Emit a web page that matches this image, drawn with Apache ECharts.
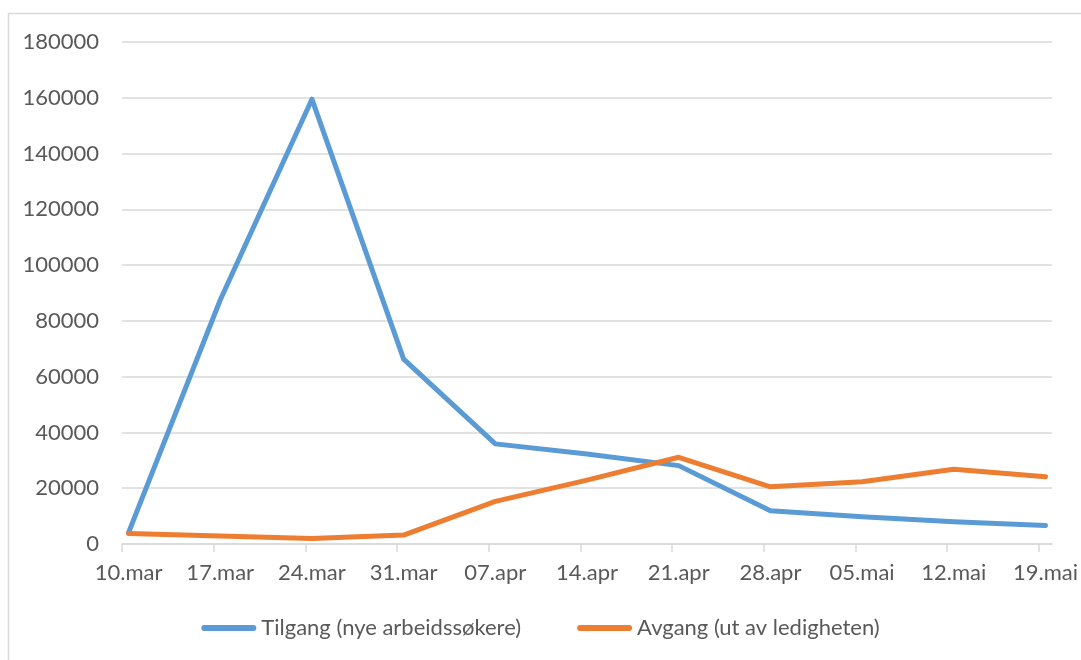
<!DOCTYPE html>
<html>
<head>
<meta charset="utf-8">
<title>Tilgang og avgang av arbeidssøkere</title>
<script src="https://cdn.jsdelivr.net/npm/echarts@6/dist/echarts.min.js"></script>
<style>
  html, body { margin: 0; padding: 0; background: #ffffff; }
  #chart { width: 1081px; height: 660px; }
</style>
</head>
<body>
<div id="chart"></div>
<script>
// Weekly dates (dd.mmm, Norwegian month abbreviations)
const weeks = ['10.mar', '17.mar', '24.mar', '31.mar', '07.apr', '14.apr',
               '21.apr', '28.apr', '05.mai', '12.mai', '19.mai'];

// New job seekers per week
const tilgang = [4100, 87500, 159500, 66300, 35900, 32300, 28100, 11900, 9800, 8000, 6600];
// Leaving unemployment per week
const avgang = [3800, 2900, 2000, 3200, 15300, 22900, 31100, 20500, 22300, 26800, 24100];

const seriesNames = ['Tilgang (nye arbeidssøkere)', 'Avgang (ut av ledigheten)'];

const yTicks = { min: 0, max: 180000, interval: 20000 };

// Date axis in day units counted from the first week; each point sits mid-day,
// tick marks fall on the day boundaries.
const monthIndex = { jan: 0, feb: 1, mar: 2, apr: 3, mai: 4, jun: 5 };
function toDay(label) {
  const [d, m] = label.split('.');
  return Date.UTC(2020, monthIndex[m], Number(d)) / 86400000;
}
const day0 = toDay(weeks[0]);
const dayOffsets = weeks.map(w => toDay(w) - day0);
const labelByDay = {};
weeks.forEach((w, i) => { labelByDay[dayOffsets[i]] = w; });

const textColor = '#595959';
const gridColor = '#d9d9d9';
const font = 'Lato, "Open Sans", sans-serif';
const fontSize = 22;

const chart = echarts.init(document.getElementById('chart'), null, { renderer: 'canvas' });

chart.setOption({
  animation: false,
  backgroundColor: '#ffffff',
  textStyle: { fontFamily: font },
  graphic: [{
    type: 'rect',
    shape: { x: 8.5, y: 13.5, width: 1200, height: 800 },
    style: { fill: 'none', stroke: gridColor, lineWidth: 1.5 },
    silent: true,
    z: -10
  }],
  grid: { left: 122, right: 27, top: 42, bottom: 116, containLabel: false },
  legend: {
    data: seriesNames,
    bottom: 16,
    left: 'center',
    itemWidth: 55,
    itemHeight: 6,
    itemGap: 56,
    icon: 'path://M3,0 L52,0 A3,3 0 0 1 52,6 L3,6 A3,3 0 0 1 3,0 Z',
    textStyle: { color: textColor, fontSize: fontSize, fontFamily: font, padding: [0, 0, 0, 0] }
  },
  xAxis: {
    type: 'value',
    min: dayOffsets[0] - 0.5,
    max: dayOffsets[dayOffsets.length - 1] + 0.5,
    splitLine: { show: false },
    axisLine: { show: true, lineStyle: { color: gridColor, width: 1.5 } },
    axisTick: {
      show: true,
      inside: false,
      length: 8,
      customValues: dayOffsets.map(d => d - 0.5),
      lineStyle: { color: gridColor, width: 1.5 }
    },
    axisLabel: {
      customValues: dayOffsets,
      formatter: v => labelByDay[v] || '',
      color: textColor,
      fontSize: fontSize,
      fontFamily: font,
      margin: 18
    }
  },
  yAxis: {
    type: 'value',
    min: yTicks.min,
    max: yTicks.max,
    interval: yTicks.interval,
    axisLine: { show: false },
    axisTick: { show: false },
    splitLine: { lineStyle: { color: gridColor, width: 1.5 } },
    axisLabel: {
      formatter: v => String(v),
      color: textColor,
      fontSize: fontSize,
      fontFamily: font,
      margin: 23
    }
  },
  series: [
    {
      name: seriesNames[0],
      type: 'line',
      data: dayOffsets.map((d, i) => [d, tilgang[i]]),
      symbol: 'none',
      lineStyle: { color: '#5b9bd5', width: 5, cap: 'round', join: 'round' },
      itemStyle: { color: '#5b9bd5' },
      z: 3
    },
    {
      name: seriesNames[1],
      type: 'line',
      data: dayOffsets.map((d, i) => [d, avgang[i]]),
      symbol: 'none',
      lineStyle: { color: '#ed7d31', width: 5, cap: 'round', join: 'round' },
      itemStyle: { color: '#ed7d31' },
      z: 4
    }
  ]
});
</script>
</body>
</html>
